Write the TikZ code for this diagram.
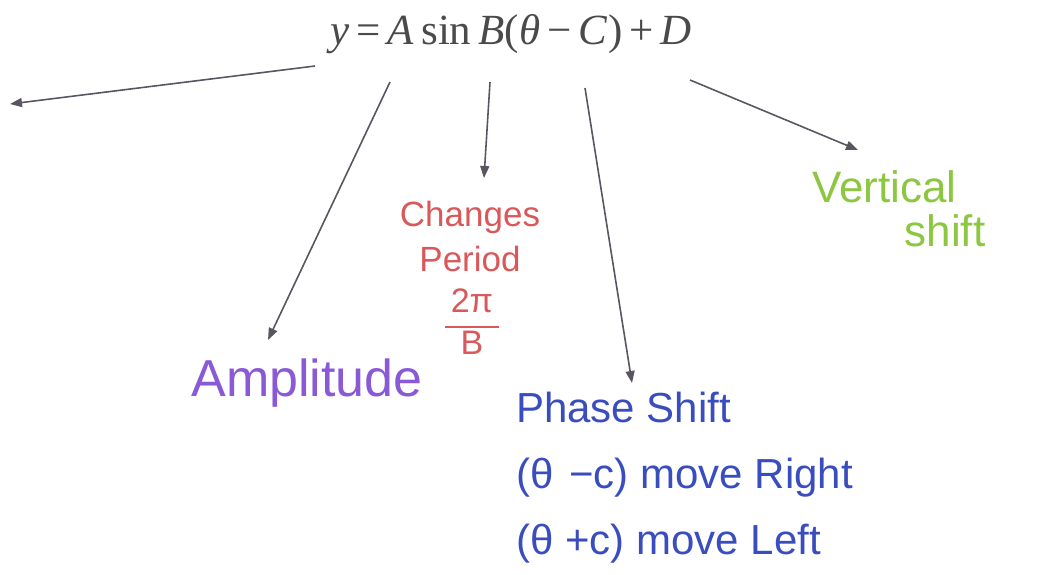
\documentclass[tikz,border=0pt]{standalone}
\usepackage{fontspec}
\setmainfont{Liberation Serif}
\newfontfamily\hand{Liberation Sans}
\usetikzlibrary{arrows.meta}
\definecolor{arrowgray}{HTML}{5A5560}
\definecolor{eqcol}{HTML}{4A4A4A}
\definecolor{ampcol}{HTML}{8A5AD6}
\definecolor{percol}{HTML}{D9595A}
\definecolor{phcol}{HTML}{3A4DBE}
\definecolor{vscol}{HTML}{8DC640}
\tikzset{
  conn/.style={draw=arrowgray, line width=1.6pt, -{Triangle[length=12pt,width=9pt]}},
  lab/.style={inner sep=0pt, font=\hand},
}
\begin{document}
\begin{tikzpicture}[x=1pt,y=-1pt]
\useasboundingbox (0,0) rectangle (1052,574);
\node[inner sep=0pt, text=eqcol, font=\fontsize{43}{48}\selectfont] (eq) at (511,34) {\textit{y}\,=\,\textit{A}\,sin\,\textit{B}(\textit{θ}\,−\,\textit{C})\,+\,\textit{D}};
\coordinate (s1) at (315,66);
\coordinate (e1) at (10,104);
\coordinate (s2) at (390,82);
\coordinate (e2) at (268,340);
\coordinate (s3) at (490,82);
\coordinate (e3) at (484,178);
\coordinate (s4) at (585,88);
\coordinate (e4) at (632,383);
\coordinate (s5) at (690,80);
\coordinate (e5) at (858,150);
\node[lab, text=ampcol, font=\hand\fontsize{52}{56}\selectfont] (amp) at (307,383) {Amplitude};
\node[lab, text=percol, align=center, font=\hand\fontsize{35}{45}\selectfont] (per) at (470,236) {Changes\\Period};
\node[lab, text=percol, font=\hand\fontsize{34}{38}\selectfont] (frac) at (472,326) {\setlength{\arrayrulewidth}{2pt}\begin{tabular}{@{\,}c@{\,}}2π\\[2pt]\hline B\end{tabular}};
\node[lab, text=phcol, align=left, anchor=north west, font=\hand\fontsize{42}{66}\selectfont] (ph) at (516,392) {Phase Shift\\(θ $\,$−c) move Right\\(θ +c) move Left};
\node[lab, text=vscol, align=left, anchor=north west, font=\hand\fontsize{44}{44}\selectfont] (vs) at (812,170) {Vertical\\\hspace*{2.1em}shift};
\draw[conn] (s1) -- (e1);
\draw[conn] (s2) -- (e2);
\draw[conn] (s3) -- (e3);
\draw[conn] (s4) -- (e4);
\draw[conn] (s5) -- (e5);
\end{tikzpicture}
\end{document}
